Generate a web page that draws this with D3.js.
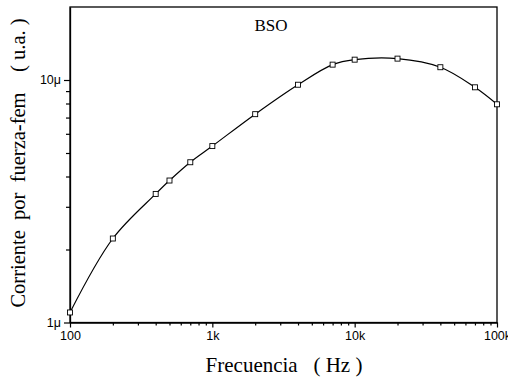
<!DOCTYPE html>
<html>
<head>
<meta charset="utf-8">
<script src="https://cdn.jsdelivr.net/npm/d3@7"></script>
<style>
  body { margin: 0; background: #fff; }
  svg { display: block; }
</style>
</head>
<body>
<script>
// frequency (Hz) and current per emf (arbitrary units, x1e-6)
var freq = [100, 200, 400, 500, 700, 1000, 2000, 4000, 7000, 10000, 20000, 40000, 70000, 100000];
var current = [1.10, 2.22, 3.39, 3.85, 4.58, 5.34, 7.23, 9.56, 11.57, 12.13, 12.25, 11.29, 9.33, 7.94];

var xTicks = [100, 1000, 10000, 100000];
var xTickLabels = ["100", "1k", "10k", "100k"];
var yTicks = [1, 10];
var yTickLabels = ["1\u03bc", "10\u03bc"];

var dataset = freq.map(function(f, i) { return {f: f, c: current[i]}; });

var w = 508, h = 379;
var mLeft = 70, mRight = 497, mTop = 7, mBottom = 322.5;

var svg = d3.select("body").append("svg")
  .attr("width", w)
  .attr("height", h);

var xScale = d3.scaleLog().domain([100, 100000]).range([mLeft, mRight]);
var yScale = d3.scaleLog().domain([1, 20]).range([mBottom, mTop]);

// minor ticks
var xMinor = [];
[100, 1000, 10000].forEach(function(d) {
  for (var k = 2; k <= 9; k++) xMinor.push(d * k);
});
var yMinor = [2, 3, 4, 5, 6, 7, 8, 9];

// frame
svg.append("rect")
  .attr("x", mLeft).attr("y", mTop)
  .attr("width", mRight - mLeft).attr("height", mBottom - mTop)
  .attr("fill", "none").attr("stroke", "#000").attr("stroke-width", 1.3);

// x axis
var xAxis = d3.axisBottom(xScale)
  .tickValues(xTicks)
  .tickFormat(function(d, i) { return xTickLabels[i]; })
  .tickSize(5).tickPadding(4).tickSizeOuter(0);
var gx = svg.append("g").attr("transform", "translate(0," + mBottom + ")").call(xAxis);
gx.select(".domain").attr("stroke-width", 1.3);
gx.selectAll("text").attr("font-family", "Liberation Sans, Arial, sans-serif").attr("font-size", "12.5px").attr("fill", "#000");

var xAxisMinor = d3.axisBottom(xScale).tickValues(xMinor).tickFormat("").tickSize(3).tickSizeOuter(0);
var gxm = svg.append("g").attr("transform", "translate(0," + mBottom + ")").call(xAxisMinor);
gxm.select(".domain").remove();

// y axis
var yAxis = d3.axisLeft(yScale)
  .tickValues(yTicks)
  .tickFormat(function(d, i) { return yTickLabels[i]; })
  .tickSize(6).tickPadding(3).tickSizeOuter(0);
var gy = svg.append("g").attr("transform", "translate(" + mLeft + ",0)").call(yAxis);
gy.select(".domain").attr("stroke-width", 1.3);
gy.selectAll("text").attr("font-family", "Liberation Sans, Arial, sans-serif").attr("font-size", "12.5px").attr("fill", "#000");

var yAxisMinor = d3.axisLeft(yScale).tickValues(yMinor).tickFormat("").tickSize(4).tickSizeOuter(0);
var gym = svg.append("g").attr("transform", "translate(" + mLeft + ",0)").call(yAxisMinor);
gym.select(".domain").remove();

svg.selectAll(".tick line").attr("stroke-width", 1.2).attr("stroke", "#000");

// curve
var line = d3.line()
  .x(function(d) { return xScale(d.f); })
  .y(function(d) { return yScale(d.c); })
  .curve(d3.curveCatmullRom);

svg.append("path")
  .datum(dataset)
  .attr("d", line)
  .attr("fill", "none")
  .attr("stroke", "#000")
  .attr("stroke-width", 1.2);

// markers
svg.selectAll("rect.pt")
  .data(dataset)
  .enter()
  .append("rect")
  .attr("class", "pt")
  .attr("x", function(d) { return xScale(d.f) - 2.5; })
  .attr("y", function(d) { return yScale(d.c) - 2.5; })
  .attr("width", 5)
  .attr("height", 5)
  .attr("fill", "#fff")
  .attr("stroke", "#000")
  .attr("stroke-width", 0.9);

// labels
svg.append("text")
  .attr("x", 271).attr("y", 31)
  .attr("text-anchor", "middle")
  .attr("font-family", "Liberation Serif, Times New Roman, serif")
  .attr("font-size", "17px")
  .text("BSO");

svg.append("text")
  .attr("x", 284).attr("y", 372)
  .attr("text-anchor", "middle")
  .attr("font-family", "Liberation Serif, Times New Roman, serif")
  .attr("font-size", "21px")
  .style("white-space", "pre")
  .text("Frecuencia   ( Hz )");

svg.append("text")
  .attr("transform", "translate(25,163) rotate(-90)")
  .attr("text-anchor", "middle")
  .attr("font-family", "Liberation Serif, Times New Roman, serif")
  .attr("font-size", "20.5px")
  .style("white-space", "pre")
  .text("Corriente  por  fuerza-fem    ( u.a. )");
</script>
</body>
</html>
